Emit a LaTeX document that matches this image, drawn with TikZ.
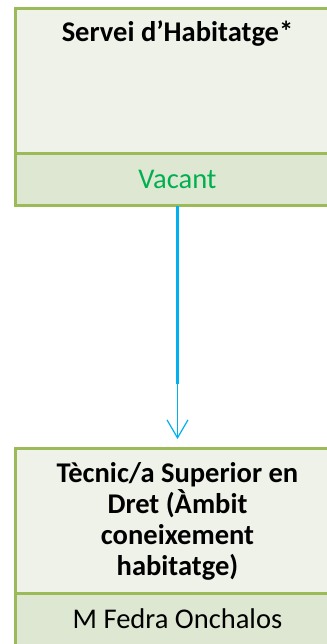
\documentclass[tikz,border=0pt]{standalone}
\usepackage{fontspec}
\setmainfont{Carlito}
\usepackage{xcolor}
\usepackage{tikz}
\usetikzlibrary{arrows.meta,positioning}

\definecolor{orgborder}{HTML}{9BBB59}
\definecolor{orgtop}{HTML}{EFF2E9}
\definecolor{orgname}{HTML}{DEE7D1}
\definecolor{vacantgreen}{HTML}{00B050}
\definecolor{linkblue}{HTML}{00B0F0}

\begin{document}
\begin{tikzpicture}[
			x=0.75pt, y=-0.75pt,
			font=\fontsize{21.4}{23.25}\selectfont,
			headbox/.style={draw=orgborder, line width=2.25pt, fill=orgtop, minimum width=243.75pt, minimum height=108.75pt, anchor=north, inner sep=0pt, outer sep=0pt},
			namebox/.style={draw=orgborder, line width=2.25pt, fill=orgname, minimum width=243.75pt, minimum height=39pt, anchor=north, inner sep=0pt, outer sep=0pt},
			title/.style={font=\fontsize{21.4}{23.25}\selectfont\bfseries, align=center, anchor=base, inner sep=0pt},
			person/.style={anchor=base, inner sep=0pt},
			link/.style={draw=linkblue, line width=0.9pt, -{Straight Barb[length=13.5pt,width=15.75pt]}},
			trunk/.style={draw=linkblue, line width=2.25pt}
			]
			\useasboundingbox (0,0) rectangle (327,644);
			
			\node[headbox] (servei) at (177.5,8.5) {};
			\node[namebox] (serveiname) at (177.5,153.5) {};
			\node[title] (serveititle) at (177.5,41.7) {Servei d’Habitatge*};
			\node[person, text=vacantgreen] (vacant) at (177.5,188) {Vacant};
			
			\node[headbox] (tecnic) at (177.5,448.5) {};
			\node[namebox, minimum height=42pt] (tecnicname) at (177.5,593.5) {};
			% base is the last line here
			\node[title] (tecnictitle) at (177.5,575) {Tècnic/a Superior en\\Dret (Àmbit\\coneixement\\habitatge)};
			\node[person] (fedra) at (177.5,628.3) {M Fedra Onchalos};
			
			\coordinate (bend) at (177.5,384);
			\draw[trunk] (serveiname.south) -- (bend);
			\draw[link, shorten >=7.1pt] (serveiname.south) -- (tecnic.north);
		\end{tikzpicture}
\end{document}
